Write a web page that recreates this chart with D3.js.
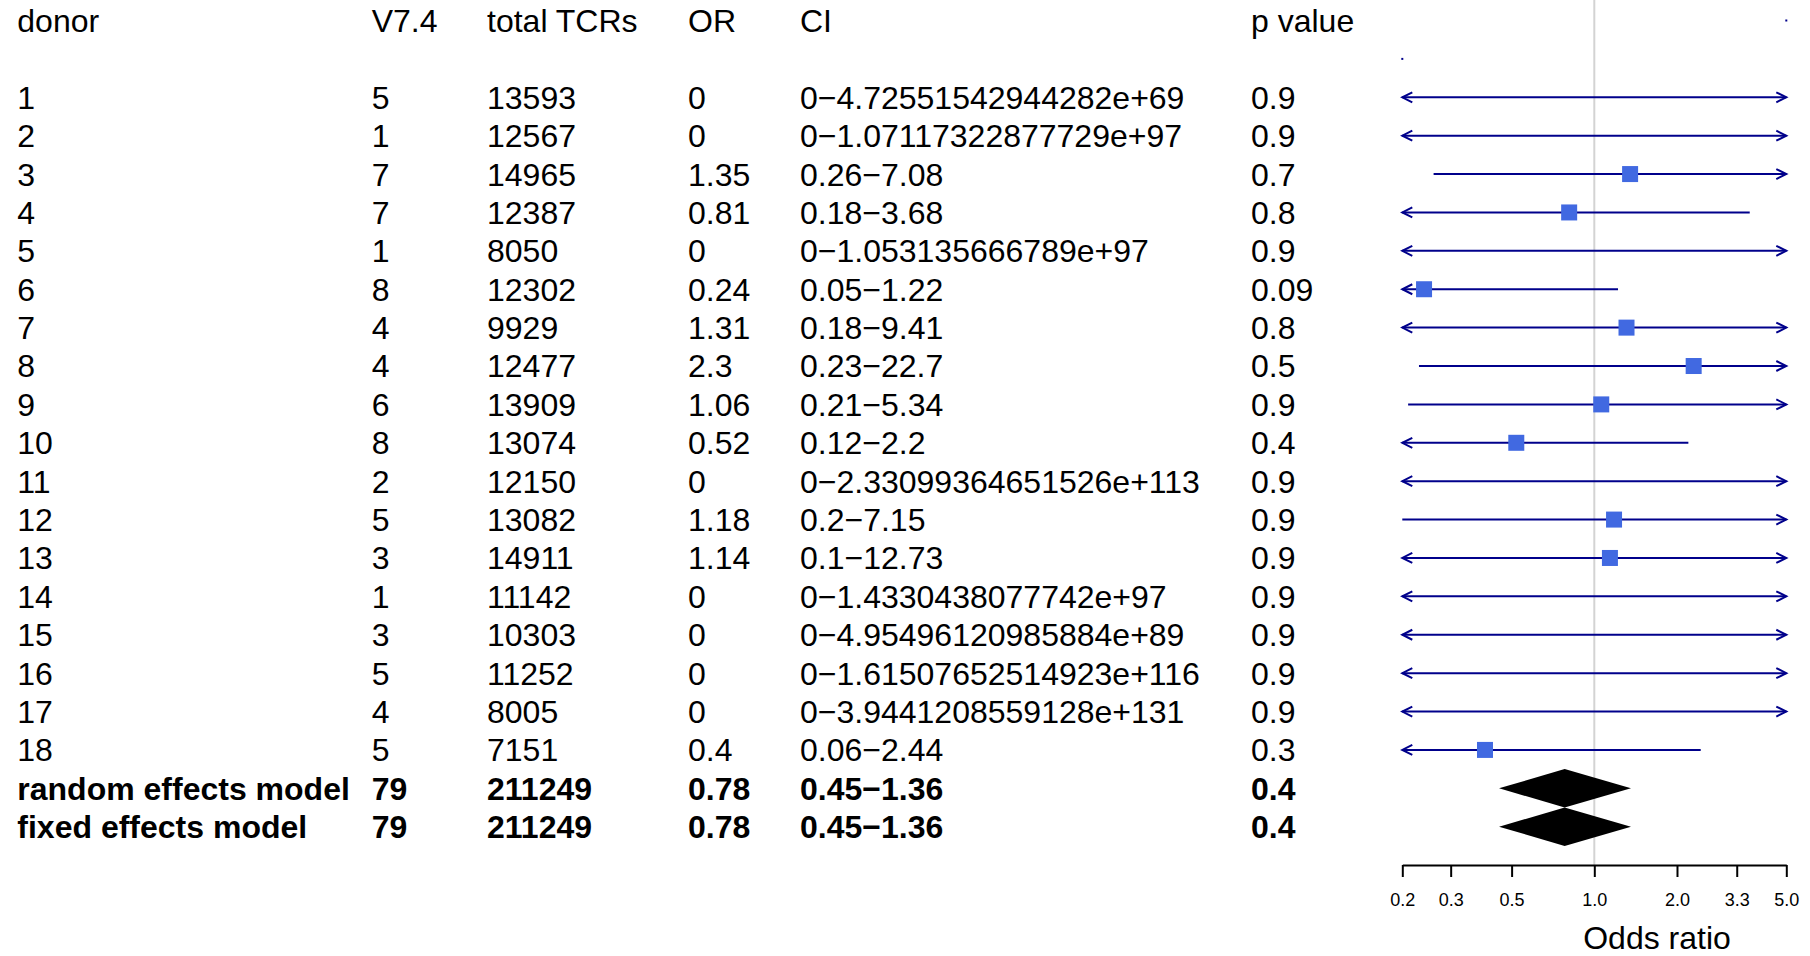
<!DOCTYPE html>
<html>
<head>
<meta charset="utf-8">
<script src="https://cdn.jsdelivr.net/npm/d3@7"></script>
<style>
  html, body { margin: 0; padding: 0; background: #fff; }
  svg { display: block; font-family: "Liberation Sans", Arial, Helvetica, sans-serif; }
</style>
</head>
<body>
<svg id="chart" width="1810" height="956"></svg>
<script>
// ---------- data ----------
const headers = ["donor", "V7.4", "total TCRs", "OR", "CI", "p value"];
const donors = ["1","2","3","4","5","6","7","8","9","10","11","12","13","14","15","16","17","18"];
const v74 = [5,1,7,7,1,8,4,4,6,8,2,5,3,1,3,5,4,5];
const totalTCRs = [13593,12567,14965,12387,8050,12302,9929,12477,13909,13074,12150,13082,14911,11142,10303,11252,8005,7151];
const orValues = [0,0,1.35,0.81,0,0.24,1.31,2.3,1.06,0.52,0,1.18,1.14,0,0,0,0,0.4];
const ciLower = [0,0,0.26,0.18,0,0.05,0.18,0.23,0.21,0.12,0,0.2,0.1,0,0,0,0,0.06];
const ciUpperText = ["4.72551542944282e+69","1.07117322877729e+97","7.08","3.68","1.053135666789e+97","1.22","9.41","22.7","5.34","2.2","2.33099364651526e+113","7.15","12.73","1.4330438077742e+97","4.95496120985884e+89","1.61507652514923e+116","3.9441208559128e+131","2.44"];
const pValues = ["0.9","0.9","0.7","0.8","0.9","0.09","0.8","0.5","0.9","0.4","0.9","0.9","0.9","0.9","0.9","0.9","0.9","0.3"];

const models = ["random effects model", "fixed effects model"];
const modelV74 = [79, 79];
const modelTotal = [211249, 211249];
const modelOR = [0.78, 0.78];
const modelLower = [0.45, 0.45];
const modelUpper = [1.36, 1.36];
const modelP = ["0.4", "0.4"];

const tickValues = [0.2, 0.3, 0.5, 1, 2, 3.3, 5];
const tickLabels = ["0.2", "0.3", "0.5", "1.0", "2.0", "3.3", "5.0"];
const xDomain = [0.2, 5];
const artifactDots = [{row: 0, v: 5}, {row: 1, v: 0.2}];

// ---------- layout ----------
const svg = d3.select("#chart");
const FS = 32;
const nRows = 2 + donors.length + models.length; // header, blank, donors, models
const y = d3.scalePoint().domain(d3.range(nRows)).range([20.5, 826.7]);
const rowH = y.step();
const x = d3.scaleLog().domain(xDomain).range([1402.3, 1786.3]);
const colX = [17.3, 371.7, 487, 688, 800, 1251];
const axisY = 865;
const lineColor = "#00008B";
const boxColor = "#4169E1";

// reference line at OR = 1
svg.append("line")
  .attr("x1", x(1)).attr("x2", x(1))
  .attr("y1", 0).attr("y2", axisY)
  .attr("stroke", "#d3d3d3").attr("stroke-width", 2);

// ---------- table ----------
const rows = [];
rows.push({cells: headers, bold: false, row: 0});
donors.forEach((d, i) => {
  rows.push({
    cells: [d, String(v74[i]), String(totalTCRs[i]), String(orValues[i]),
            String(ciLower[i]) + "\u2212" + ciUpperText[i], pValues[i]],
    bold: false, row: i + 2
  });
});
models.forEach((m, i) => {
  rows.push({
    cells: [m, String(modelV74[i]), String(modelTotal[i]), String(modelOR[i]),
            String(modelLower[i]) + "\u2212" + String(modelUpper[i]), modelP[i]],
    bold: true, row: donors.length + 2 + i
  });
});

const tg = svg.append("g");
rows.forEach(r => {
  r.cells.forEach((c, j) => {
    tg.append("text")
      .attr("x", colX[j])
      .attr("y", y(r.row) + FS * 0.358)
      .attr("font-size", FS)
      .attr("font-weight", r.bold ? "bold" : "normal")
      .attr("fill", "#000")
      .text(c);
  });
});

// ---------- CI lines ----------
const [xmin, xmax] = xDomain;
const ciData = donors.map((d, i) => ({
  row: i + 2, or: orValues[i], lo: ciLower[i], hi: +ciUpperText[i]
}));
const cg = svg.append("g");
ciData.forEach(d => {
  const lo = Math.max(d.lo, xmin), hi = Math.min(d.hi, xmax);
  const yy = y(d.row);
  cg.append("line")
    .attr("x1", x(lo)).attr("x2", x(hi))
    .attr("y1", yy).attr("y2", yy)
    .attr("stroke", lineColor).attr("stroke-width", 2);
  if (d.lo < xmin) {
    const xe = x(xmin);
    cg.append("path")
      .attr("d", `M${xe + 10},${yy - 5}L${xe},${yy}L${xe + 10},${yy + 5}`)
      .attr("fill", "none").attr("stroke", lineColor).attr("stroke-width", 2);
  }
  if (d.hi > xmax) {
    const xe = x(xmax);
    cg.append("path")
      .attr("d", `M${xe - 10},${yy - 5}L${xe},${yy}L${xe - 10},${yy + 5}`)
      .attr("fill", "none").attr("stroke", lineColor).attr("stroke-width", 2);
  }
});

// boxes
const box = 16;
cg.selectAll("rect.box")
  .data(ciData.filter(d => d.or > 0))
  .enter().append("rect")
  .attr("class", "box")
  .attr("x", d => x(d.or) - box / 2)
  .attr("y", d => y(d.row) - box / 2)
  .attr("width", box).attr("height", box)
  .attr("fill", boxColor);

// tiny artifact dots
cg.selectAll("rect.dot")
  .data(artifactDots)
  .enter().append("rect")
  .attr("x", d => x(d.v) - 1)
  .attr("y", d => y(d.row) - 1)
  .attr("width", 2).attr("height", 2)
  .attr("fill", lineColor);

// ---------- summary diamonds ----------
models.forEach((m, i) => {
  const yy = y(donors.length + 2 + i);
  const h = rowH / 2;
  svg.append("path")
    .attr("d", `M${x(modelLower[i])},${yy}L${x(modelOR[i])},${yy - h}L${x(modelUpper[i])},${yy}L${x(modelOR[i])},${yy + h}Z`)
    .attr("fill", "#000");
});

// ---------- axis ----------
const axis = d3.axisBottom(x)
  .tickValues(tickValues)
  .tickFormat((d, i) => tickLabels[i])
  .tickSize(12)
  .tickSizeOuter(0)
  .tickPadding(18);
const ag = svg.append("g")
  .attr("transform", `translate(0,${axisY})`)
  .call(axis);
ag.select(".domain").attr("stroke", "#000").attr("stroke-width", 2);
ag.selectAll(".tick line").attr("stroke", "#000").attr("stroke-width", 2);
ag.selectAll(".tick text")
  .attr("font-size", 18)
  .attr("font-family", "\"Liberation Sans\", Arial, sans-serif")
  .attr("fill", "#000")
  .attr("dy", null)
  .attr("y", 40.5);

svg.append("text")
  .attr("x", 1657)
  .attr("y", 949)
  .attr("text-anchor", "middle")
  .attr("font-size", FS)
  .attr("fill", "#000")
  .text("Odds ratio");
</script>
</body>
</html>
